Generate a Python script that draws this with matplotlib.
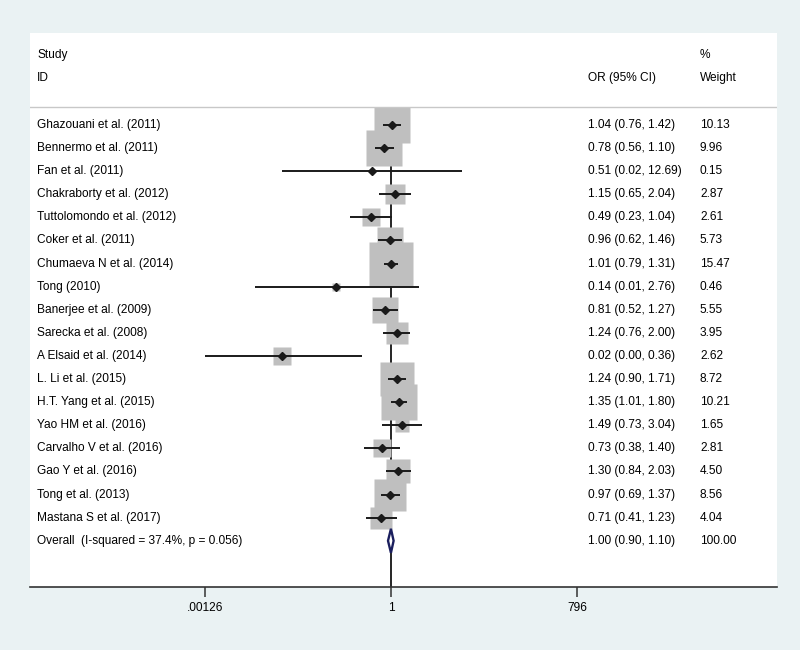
import numpy as np
import matplotlib
matplotlib.use("Agg")
import matplotlib.pyplot as plt
import matplotlib.transforms as mtransforms

plt.rcParams['font.family'] = ['Liberation Sans', 'DejaVu Sans']

studies = ["Ghazouani et al. (2011)", "Bennermo et al. (2011)", "Fan et al. (2011)",
           "Chakraborty et al. (2012)", "Tuttolomondo et al. (2012)", "Coker et al. (2011)",
           "Chumaeva N et al. (2014)", "Tong (2010)", "Banerjee et al. (2009)",
           "Sarecka et al. (2008)", "A Elsaid et al. (2014)", "L. Li et al. (2015)",
           "H.T. Yang et al. (2015)", "Yao HM et al. (2016)", "Carvalho V et al. (2016)",
           "Gao Y et al. (2016)", "Tong et al. (2013)", "Mastana S et al. (2017)"]
odds = [1.04, 0.78, 0.51, 1.15, 0.49, 0.96, 1.01, 0.14, 0.81, 1.24, 0.02, 1.24, 1.35,
        1.49, 0.73, 1.30, 0.97, 0.71]
ci_lo = [0.76, 0.56, 0.02, 0.65, 0.23, 0.62, 0.79, 0.0076, 0.52, 0.76, 0.00126, 0.90, 1.01,
         0.73, 0.38, 0.84, 0.69, 0.41]
ci_hi = [1.42, 1.10, 12.69, 2.04, 1.04, 1.46, 1.31, 2.76, 1.27, 2.00, 0.36, 1.71, 1.80,
         3.04, 1.40, 2.03, 1.37, 1.23]
weights = [10.13, 9.96, 0.15, 2.87, 2.61, 5.73, 15.47, 0.46, 5.55, 3.95, 2.62, 8.72, 10.21,
           1.65, 2.81, 4.50, 8.56, 4.04]

overall_label = "Overall  (I-squared = 37.4%, p = 0.056)"
overall_or, overall_lo, overall_hi = 1.00, 0.90, 1.10
tick_vals = [0.00126, 1, 796]
tick_labels = [".00126", "1", "796"]

bg = '#eaf2f3'
fig = plt.figure(figsize=(8, 6.5), dpi=100, facecolor=bg)
ax = fig.add_axes([30 / 800, 1 - 587 / 650, 747 / 800, 554 / 650])
ax.set_facecolor('white')

ax.set_xscale('log')
ax.set_xlim(np.exp(-12.94), np.exp(13.84))
ax.set_ylim(20.0, -3.98)

n = len(studies)
rows = np.arange(n)

# null line
ax.plot([1, 1], [-0.5, 20.0], color='black', lw=1.2, zorder=1)

# weight boxes (area ~ weight)
for i in rows:
    ax.plot(odds[i], i, marker='s', ms=8.1 * np.sqrt(weights[i]), color='#bfbfbf',
            mec='none', ls='none', zorder=2)
# CIs and points
for i in rows:
    ax.plot([ci_lo[i], ci_hi[i]], [i, i], color='#1a1a1a', lw=1.4, zorder=3,
            solid_capstyle='butt')
    ax.plot(odds[i], i, marker='D', ms=4.3, color='#1a1a1a', ls='none', zorder=4)

# overall diamond
yo = n
dh = 0.52
ax.fill([overall_lo, overall_or, overall_hi, overall_or, overall_lo],
        [yo, yo - dh, yo, yo + dh, yo], facecolor='white', edgecolor='#1b1f5e',
        lw=1.7, zorder=5)

# text columns
tr = mtransforms.blended_transform_factory(ax.transAxes, ax.transData)
fs = 8.6
x_id, x_or, x_w = 7 / 747, 558 / 747, 670 / 747
ax.text(x_id, -3.03, "Study", transform=tr, fontsize=fs, va='center')
ax.text(x_id, -2.03, "ID", transform=tr, fontsize=fs, va='center')
ax.text(x_or, -2.03, "OR (95% CI)", transform=tr, fontsize=fs, va='center')
ax.text(x_w, -3.03, "%", transform=tr, fontsize=fs, va='center')
ax.text(x_w, -2.03, "Weight", transform=tr, fontsize=fs, va='center')
ax.axhline(-0.78, color='#c8c8c8', lw=1.0)

for i in rows:
    ax.text(x_id, i, studies[i], transform=tr, fontsize=fs, va='center')
    ax.text(x_or, i, f"{odds[i]:.2f} ({ci_lo[i]:.2f}, {ci_hi[i]:.2f})", transform=tr,
            fontsize=fs, va='center')
    ax.text(x_w, i, f"{weights[i]:.2f}", transform=tr, fontsize=fs, va='center')
ax.text(x_id, yo, overall_label, transform=tr, fontsize=fs, va='center')
ax.text(x_or, yo, f"{overall_or:.2f} ({overall_lo:.2f}, {overall_hi:.2f})", transform=tr,
        fontsize=fs, va='center')
ax.text(x_w, yo, "100.00", transform=tr, fontsize=fs, va='center')

# axis
for s in ['top', 'left', 'right']:
    ax.spines[s].set_visible(False)
ax.spines['bottom'].set_color('#333333')
ax.spines['bottom'].set_linewidth(1.2)
ax.set_yticks([])
ax.set_xticks(tick_vals)
ax.set_xticklabels(tick_labels)
ax.xaxis.set_minor_locator(matplotlib.ticker.NullLocator())
ax.tick_params(axis='x', length=7, width=1.1, color='#333333', labelsize=fs, pad=4)

fig.savefig("out.png", dpi=100, facecolor=bg)
